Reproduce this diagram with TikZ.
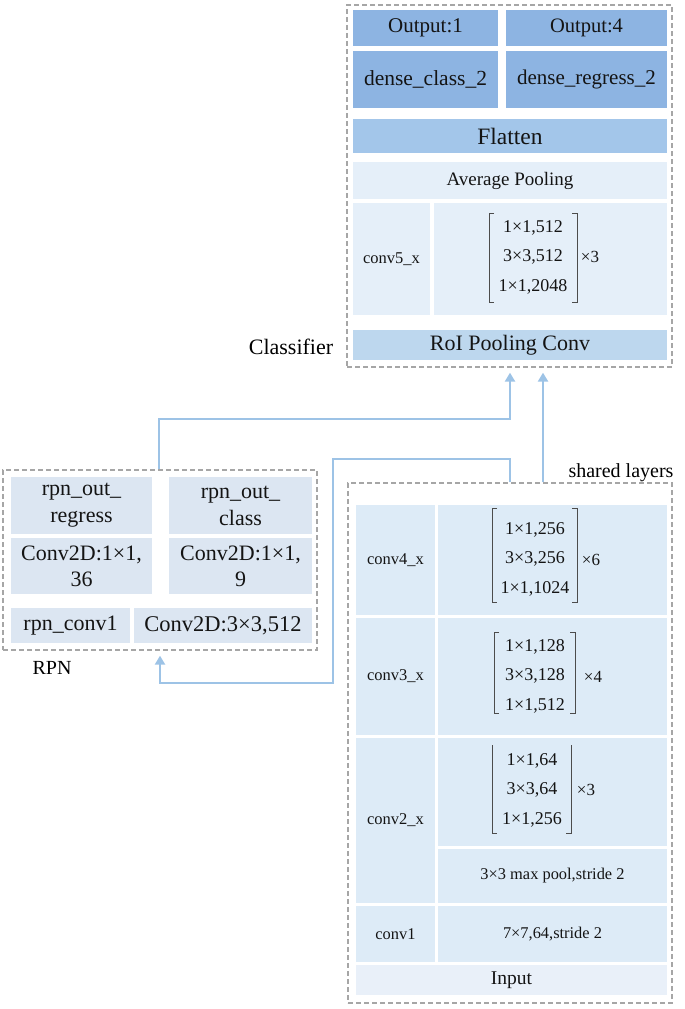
\documentclass[tikz,border=0pt]{standalone}
\usepackage{fontspec}
\setmainfont{Liberation Serif}
\usetikzlibrary{arrows.meta}
\definecolor{dk}{HTML}{8DB4E2}
\definecolor{fl}{HTML}{A3C6EA}
\definecolor{roi}{HTML}{BDD7EE}
\definecolor{lt}{HTML}{E5EFF9}
\definecolor{sh}{HTML}{DDEBF7}
\definecolor{inp}{HTML}{E9F0F9}
\definecolor{rp}{HTML}{DCE6F2}
\definecolor{ln}{HTML}{9DC3E6}
\definecolor{bd}{HTML}{A6A6A6}
\definecolor{tx}{HTML}{141414}
\newcommand\fs[1]{\fontsize{#1}{#1}\selectfont}
\begin{document}
\begin{tikzpicture}[x=1pt,y=-1pt,
 cell/.style={fill=#1, inner sep=0pt, align=center, text=tx},
 wh/.style 2 args={minimum width=#1pt, minimum height=#2pt},
 grp/.style={draw=bd, line width=1.3pt, dash pattern=on 5pt off 3pt, inner sep=0pt},
 conn/.style={draw=ln, line width=2.4pt},
 arr/.style={conn, -{Triangle[width=10pt,length=9pt]}},
 brk/.style={draw=black!70, line width=1pt},
 lbl/.style={inner sep=0pt, text=black},
 mtx/.style={inner sep=0pt, align=center, text=tx, font=\fontsize{18}{29.5}\selectfont},
 ]
\useasboundingbox (0,0) rectangle (685,1009);

% ---------------- Classifier ----------------
\node[grp, wh={325}{362}] (clsbox) at (509.5,186) {};
\node[cell=dk, wh={145}{36}, font=\fs{21}] (out1) at (425.5,28) {Output:1};
\node[cell=dk, wh={161}{36}, font=\fs{20.5}] (out4) at (586.5,28) {Output:4};
\node[cell=dk, wh={145}{57}, font=\fs{21.5}] (dc2) at (425.5,79.5) {dense\_class\_2};
\node[cell=dk, wh={161}{57}, font=\fs{21}] (dr2) at (586.5,79.5) {dense\_regress\_2};
\node[cell=fl, wh={314}{34}, font=\fs{23.5}] (flat) at (510,136) {Flatten};
\node[cell=lt, wh={314}{37}, font=\fs{19}] (avg) at (510,180.5) {Average Pooling};
\node[cell=lt, wh={77}{112}, font=\fs{16.5}] (c5l) at (391.5,259) {conv5\_x};
\node[cell=lt, wh={233}{112}] (c5r) at (550.5,259) {};
\node[mtx] (m5) at (533,257) {1×1,512\\3×3,512\\1×1,2048};
\node[lbl, text=tx, font=\fs{17}] (x5) at (590,257) {×3};
\draw[brk] (494,213) -- (489,213) -- (489,302) -- (494,302);
\draw[brk] (572,213) -- (577,213) -- (577,302) -- (572,302);
\node[cell=roi, wh={314}{30}, font=\fs{22}] (roi) at (510,345) {RoI Pooling Conv};
\node[lbl, font=\fs{22}] (clslbl) at (291,347) {Classifier};

% ---------------- RPN ----------------
\node[grp, wh={314}{180}] (rpnbox) at (160,560) {};
\node[cell=rp, wh={141}{57}, font=\fontsize{22}{27}\selectfont] (ror) at (81.5,505.5) {rpn\_out\_\\regress};
\node[cell=rp, wh={141}{56}, font=\fontsize{22}{26}\selectfont] (rcr) at (81.5,566) {Conv2D:1×1,\\36};
\node[cell=rp, wh={143}{57}, font=\fontsize{22}{27}\selectfont] (roc) at (240.5,505.5) {rpn\_out\_\\class};
\node[cell=rp, wh={143}{56}, font=\fontsize{22}{26}\selectfont] (rcc) at (240.5,566) {Conv2D:1×1,\\9};
\node[cell=rp, wh={119}{35}, font=\fs{22}] (rc1) at (70.5,625.5) {rpn\_conv1};
\node[cell=rp, wh={178}{35}, font=\fs{22.5}] (rc3) at (223,625.5) {Conv2D:3×3,512};
\node[lbl, font=\fs{20}] (rpnlbl) at (52,668) {RPN};

% ---------------- Shared layers ----------------
\node[grp, wh={324}{520}] (shbox) at (510,743) {};
\node[lbl, font=\fs{20}] (shlbl) at (621,473) {shared layers};
% conv4
\node[cell=sh, wh={79}{110}, font=\fs{16.5}] (c4l) at (395.5,560) {conv4\_x};
\node[cell=sh, wh={229}{110}] (c4r) at (552.5,560) {};
\node[mtx] (m4) at (535,559) {1×1,256\\3×3,256\\1×1,1024};
\node[lbl, text=tx, font=\fs{17}] (x4) at (591,560) {×6};
\draw[brk] (497,508) -- (492,508) -- (492,602) -- (497,602);
\draw[brk] (572,508) -- (577,508) -- (577,602) -- (572,602);
% conv3
\node[cell=sh, wh={79}{117}, font=\fs{16.5}] (c3l) at (395.5,676.5) {conv3\_x};
\node[cell=sh, wh={229}{117}] (c3r) at (552.5,676.5) {};
\node[mtx] (m3) at (535,676) {1×1,128\\3×3,128\\1×1,512};
\node[lbl, text=tx, font=\fs{17}] (x3) at (593,677) {×4};
\draw[brk] (499,632) -- (494,632) -- (494,713) -- (499,713);
\draw[brk] (570,632) -- (575,632) -- (575,713) -- (570,713);
% conv2
\node[cell=sh, wh={79}{165}, font=\fs{16.5}] (c2l) at (395.5,820.5) {conv2\_x};
\node[cell=sh, wh={229}{108}] (c2r) at (552.5,792) {};
\node[mtx] (m2) at (532,790) {1×1,64\\3×3,64\\1×1,256};
\node[lbl, text=tx, font=\fs{17}] (x2) at (586,790) {×3};
\draw[brk] (492,745) -- (492,833) -- (497,833);
\draw[brk] (571,745) -- (571,833) -- (566,833);
\node[cell=sh, wh={229}{54}, font=\fs{16.4}] (pool) at (552.5,876) {3×3 max pool,stride 2};
% conv1
\node[cell=sh, wh={79}{56}, font=\fs{16.4}] (c1l) at (395.5,934) {conv1};
\node[cell=sh, wh={229}{56}, font=\fs{16.4}] (c1r) at (552.5,934) {7×7,64,stride 2};
\node[cell=inp, wh={311}{30}, font=\fs{19.5}] (inp) at (511.5,980) {Input};

% ---------------- Connectors ----------------
\coordinate (x159) at (159,0);
\coordinate (x160) at (160,0);
\coordinate (x510) at (510,0);
\coordinate (x543) at (543,0);
\coordinate (k1) at (159,419);
\coordinate (k2) at (510,459);
\coordinate (k3) at (333,683);
\draw[arr] (rpnbox.north -| x159) -- (k1) -| ([yshift=-5pt]clsbox.south -| x510);
\draw[arr] (shbox.north -| x543) -- ([yshift=-5pt]clsbox.south -| x543);
\draw[arr] (shbox.north -| x510) -- (k2) -| (k3) -| ([yshift=-5pt]rpnbox.south -| x160);
\end{tikzpicture}
\end{document}
